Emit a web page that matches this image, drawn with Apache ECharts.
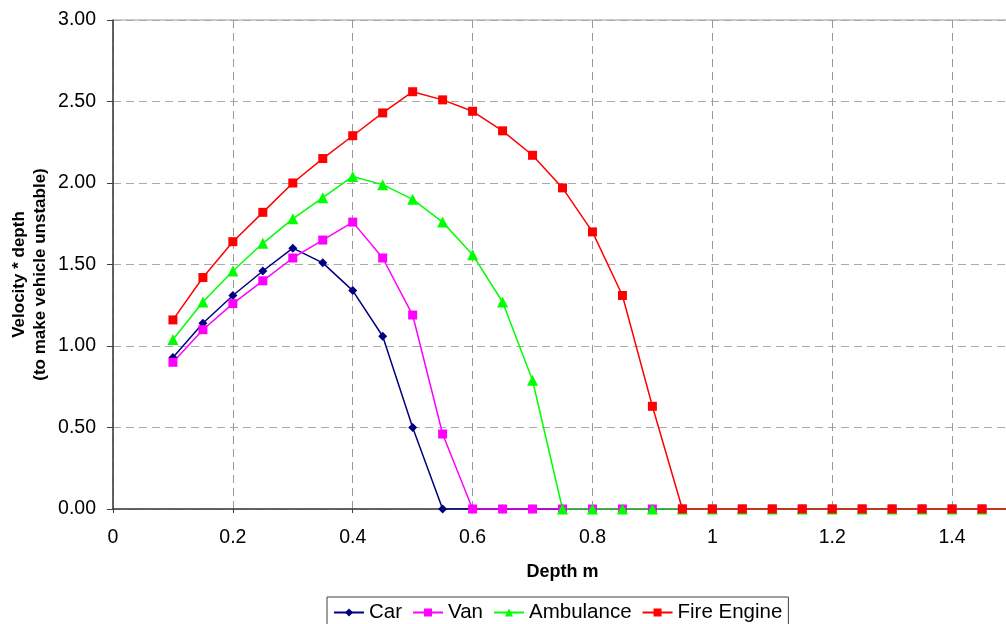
<!DOCTYPE html>
<html>
<head>
<meta charset="utf-8">
<script src="https://cdn.jsdelivr.net/npm/echarts@6/dist/echarts.min.js"></script>
<style>html,body{margin:0;padding:0;background:#fff;}#c{width:1006px;height:624px;}</style>
</head>
<body>
<div id="c"></div>
<script>
var depths = [0.1,0.15,0.2,0.25,0.3,0.35,0.4,0.45,0.5,0.55,0.6,0.65,0.7,0.75,0.8,0.85,0.9,0.95,1.0,1.05,1.1,1.15,1.2,1.25,1.3,1.35,1.4,1.45,1.5];
var car = [0.93,1.14,1.31,1.46,1.60,1.51,1.34,1.06,0.50,0,0,0,0,0,0,0,0,0,0,0,0,0,0,0,0,0,0,0,0];
var van = [0.90,1.10,1.26,1.40,1.54,1.65,1.76,1.54,1.19,0.46,0,0,0,0,0,0,0,0,0,0,0,0,0,0,0,0,0,0,0];
var ambulance = [1.04,1.27,1.46,1.63,1.78,1.91,2.04,1.99,1.90,1.76,1.56,1.27,0.79,0,0,0,0,0,0,0,0,0,0,0,0,0,0,0,0];
var fireEngine = [1.16,1.42,1.64,1.82,2.00,2.15,2.29,2.43,2.56,2.51,2.44,2.32,2.17,1.97,1.70,1.31,0.63,0,0,0,0,0,0,0,0,0,0,0,0];
var seriesNames = ['Car','Van','Ambulance','Fire Engine'];
var xTitle = 'Depth m';
var yTitle = 'Velocity * depth\n(to make vehicle unstable)';

function pairs(vals){ return depths.map(function(d,i){ return [d, vals[i]]; }); }
var FONT = "'Liberation Sans', Arial, sans-serif";
var chart = echarts.init(document.getElementById('c'), null, {renderer:'canvas'});
function mk(name, vals, color, symbol, size){
  return {name:name, type:'line', data:pairs(vals), symbol:symbol, symbolSize:size,
    lineStyle:{color:color, width:1.5}, itemStyle:{color:color}, animation:false};
}
chart.setOption({
  animation:false,
  grid:{left:113, width:899, top:20, height:489, show:true, borderColor:'#999', borderWidth:1,
    outerBoundsMode:'none', containLabel:false},
  legend:{
    data:seriesNames, left:327, top:597, orient:'horizontal',
    borderColor:'#404040', borderWidth:1, padding:[5,6,10,6], itemGap:10, itemWidth:30, itemHeight:10,
    textStyle:{fontFamily:FONT, fontSize:20.5, color:'#000'}
  },
  xAxis:{
    type:'value', min:0, max:1.5, interval:0.2,
    name:xTitle, nameLocation:'middle', nameGap:54, nameMoveOverlap:false,
    nameTextStyle:{fontFamily:FONT, fontSize:18, fontWeight:'bold', color:'#000'},
    axisLine:{lineStyle:{color:'#404040', width:1.5}},
    axisTick:{show:true, length:4, lineStyle:{color:'#404040'}},
    axisLabel:{fontFamily:FONT, fontSize:19.5, color:'#000', margin:19, showMaxLabel:false,
      formatter:function(v){ return String(Math.round(v*10)/10); }},
    splitLine:{show:true, lineStyle:{color:'#999', type:[8,5], width:1}}
  },
  yAxis:{
    type:'value', min:0, max:3, interval:0.5,
    name:yTitle, nameLocation:'middle', nameGap:62, nameRotate:90, nameMoveOverlap:false,
    nameTextStyle:{fontFamily:FONT, fontSize:17, fontWeight:'bold', color:'#000', lineHeight:21, align:'center',
      padding:[0,20,0,0]},
    axisLine:{show:true, lineStyle:{color:'#404040', width:1.5}},
    axisTick:{show:true, length:6, lineStyle:{color:'#404040'}},
    axisLabel:{fontFamily:FONT, fontSize:19.5, color:'#000', margin:17,
      formatter:function(v){ return v.toFixed(2); }},
    splitLine:{show:true, lineStyle:{color:'#aaa', type:[8,5], width:1}}
  },
  series:[
    mk('Car', car, '#000080', 'diamond', 9),
    mk('Van', van, '#ff00ff', 'rect', 9),
    mk('Ambulance', ambulance, '#00ff00', 'triangle', 11),
    mk('Fire Engine', fireEngine, '#ff0000', 'rect', 9)
  ]
});
</script>
</body>
</html>
